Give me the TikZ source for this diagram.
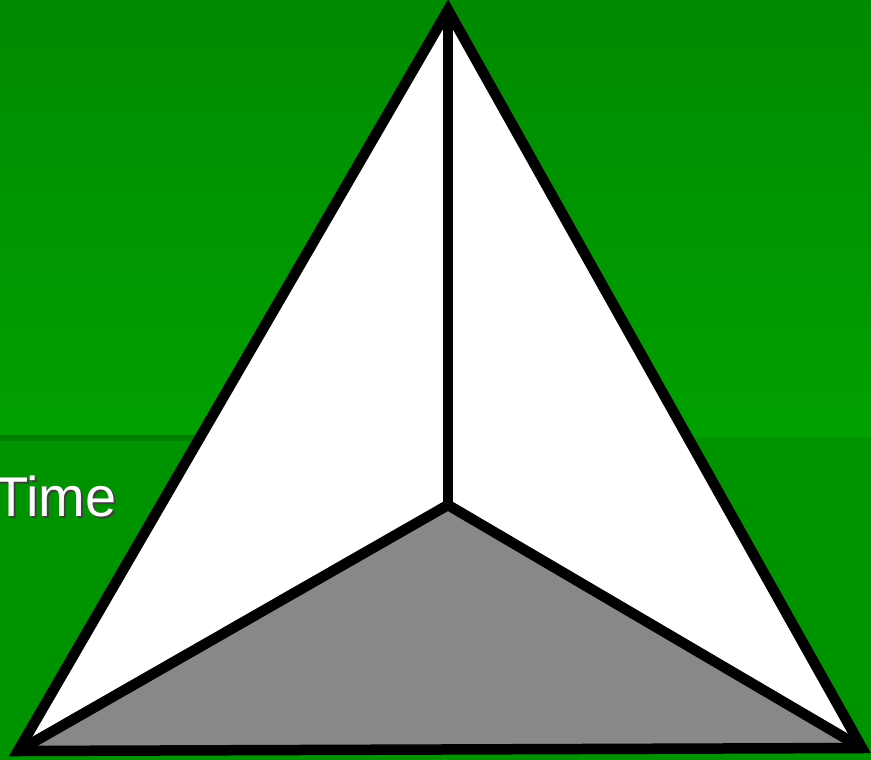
\documentclass[tikz,border=0pt]{standalone}
\usepackage{fontspec}
\setmainfont{Liberation Sans}
\definecolor{gtop}{HTML}{008A00}
\definecolor{gmid}{HTML}{00A000}
\definecolor{glow}{HTML}{009300}
\definecolor{gline}{HTML}{007E00}
\definecolor{face}{HTML}{888888}
\tikzset{
  edge/.style={draw=black, line width=10.5pt, line join=miter, line cap=round},
  lbl/.style={font=\fontsize{56}{60}\selectfont, inner sep=0pt, anchor=base west}
}
\begin{document}
\begin{tikzpicture}[x=1pt,y=-1pt]
\useasboundingbox (0,0) rectangle (871,760);
% background
\shade[top color=gtop, bottom color=gmid] (0,0) rectangle (871,437);
\fill[glow] (0,437) rectangle (871,760);
\fill[gline] (0,435) rectangle (450,441);
% text
\node[lbl, text=black!75] (timeshadow) at (-4,518) {Time};
\node[lbl, text=white] (time) at (-6,516) {Time};
% vertices
\coordinate (A) at (448,10);
\coordinate (L) at (18,751);
\coordinate (R) at (862,748);
\coordinate (C) at (448,505);
% faces
\fill[white] (A) -- (L) -- (C) -- cycle;
\fill[white] (A) -- (C) -- (R) -- cycle;
\fill[face] (L) -- (C) -- (R) -- cycle;
% edges
\draw[edge] (A) -- (C);
\draw[edge] (L) -- (C) -- (R);
\draw[edge] (A) -- (L) -- (R) -- cycle;
\end{tikzpicture}
\end{document}
